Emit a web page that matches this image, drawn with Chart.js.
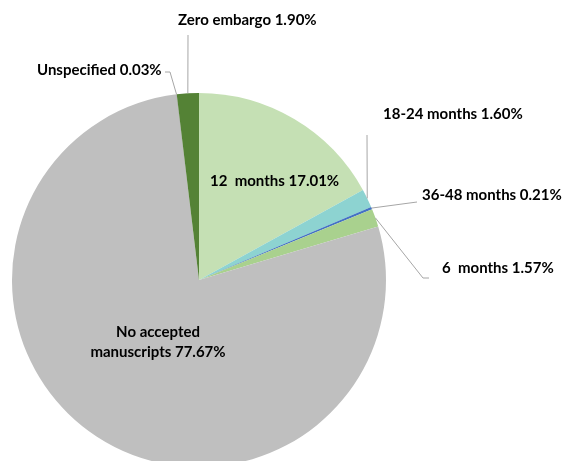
<!DOCTYPE html>
<html>
<head>
<meta charset="utf-8">
<script src="https://cdn.jsdelivr.net/npm/chart.js@4"></script>
<style>
    html, body { margin: 0; padding: 0; background: #fff; overflow: hidden; }
    #wrap { width: 562px; height: 461px; overflow: hidden; }
</style>
</head>
<body>
<div id="wrap"><canvas id="pie" width="562" height="480"></canvas></div>
<script>
// slice data, clockwise from 12 o'clock
const labels = ['12  months', '18-24 months', '36-48 months', '6  months', 'No accepted manuscripts', 'Unspecified', 'Zero embargo'];
const shares = [17.01, 1.60, 0.21, 1.57, 77.67, 0.03, 1.90];
const colors = ['#c5e0b4', '#8dd3d1', '#4472c4', '#a9d18e', '#bfbfbf', '#7f7f7f', '#548235'];

// where each label goes (text left/centre, optional leader bend points)
const labelLayout = [
    { x: 210, y: 181, lines: ['12  months 17.01%'] },
    { x: 383, y: 114, lines: ['18-24 months 1.60%'], leader: [[367, 135]] },
    { x: 422, y: 195, lines: ['36-48 months 0.21%'], leader: [[417, 202]] },
    { x: 442, y: 268, lines: ['6  months 1.57%'], leader: [[423, 278], [429, 278]] },
    { x: 158, y: 332, lines: ['No accepted', 'manuscripts 77.67%'], align: 'center' },
    { x: 37, y: 70, lines: ['Unspecified 0.03%'], leader: [[170, 72], [165, 72]] },
    { x: 178, y: 20, lines: ['Zero embargo 1.90%'], leader: [[188, 35]] }
];

const pieLabels = {
    id: 'pieLabels',
    afterDraw(chart) {
        const ctx = chart.ctx;
        const arcs = chart.getDatasetMeta(0).data;
        ctx.save();
        arcs.forEach((arc, i) => {
            const lay = labelLayout[i];
            if (lay.leader) {
                const mid = (arc.startAngle + arc.endAngle) / 2;
                const ex = arc.x + Math.cos(mid) * arc.outerRadius;
                const ey = arc.y + Math.sin(mid) * arc.outerRadius;
                ctx.strokeStyle = '#a6a6a6';
                ctx.lineWidth = 1;
                ctx.beginPath();
                ctx.moveTo(ex, ey);
                lay.leader.forEach(p => ctx.lineTo(p[0], p[1]));
                ctx.stroke();
            }
            ctx.fillStyle = '#000';
            ctx.font = 'bold 15px Lato';
            ctx.textBaseline = 'middle';
            ctx.textAlign = lay.align || 'left';
            lay.lines.forEach((t, k) => ctx.fillText(t, lay.x, lay.y + k * 20));
        });
        ctx.restore();
    }
};

new Chart(document.getElementById('pie').getContext('2d'), {
    type: 'pie',
    data: {
        labels: labels,
        datasets: [{
            data: shares,
            backgroundColor: colors,
            borderWidth: 0
        }]
    },
    options: {
        responsive: false,
        animation: false,
        layout: { padding: { left: 12, right: 176, top: 93, bottom: 13 } },
        plugins: {
            legend: { display: false },
            tooltip: { enabled: false }
        }
    },
    plugins: [pieLabels]
});
</script>
</body>
</html>
